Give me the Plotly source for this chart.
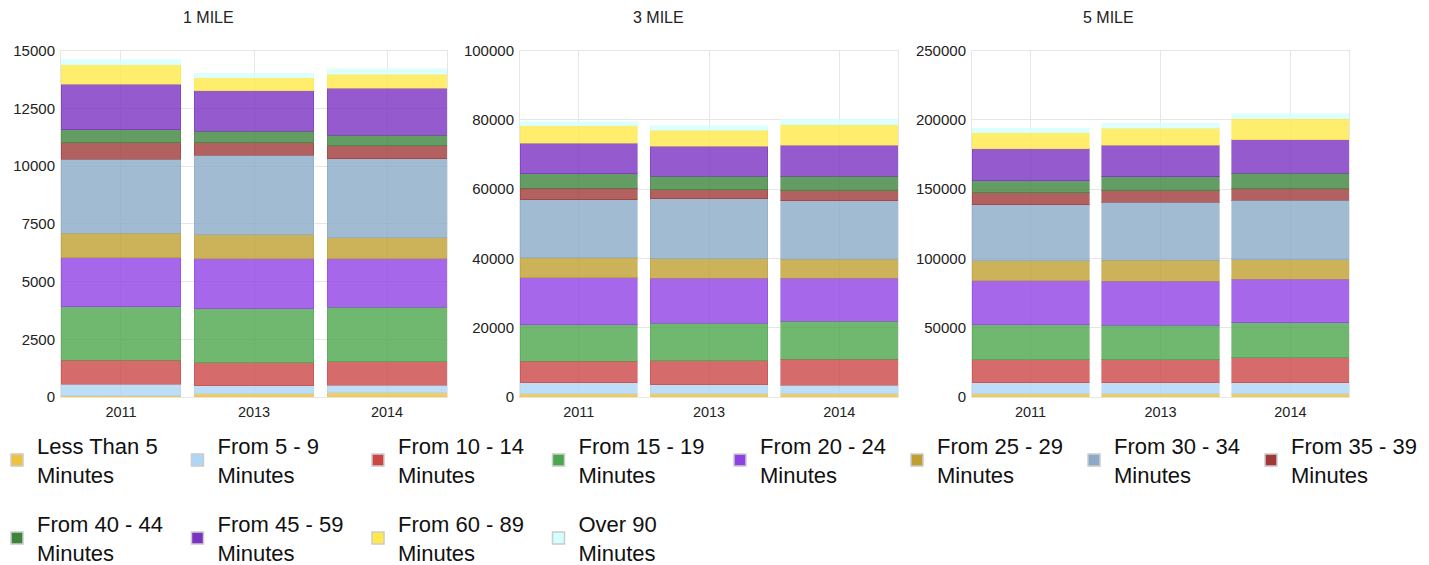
import plotly.graph_objects as go

years = ["2011", "2013", "2014"]
panel_titles = ["1 MILE", "3 MILE", "5 MILE"]
categories = [
    "Less Than 5<br>Minutes", "From 5 - 9<br>Minutes", "From 10 - 14<br>Minutes",
    "From 15 - 19<br>Minutes", "From 20 - 24<br>Minutes", "From 25 - 29<br>Minutes",
    "From 30 - 34<br>Minutes", "From 35 - 39<br>Minutes", "From 40 - 44<br>Minutes",
    "From 45 - 59<br>Minutes", "From 60 - 89<br>Minutes", "Over 90<br>Minutes",
]
colors = ["#eec23f", "#aed6f5", "#cc4646", "#4ca64c", "#9041e6", "#bf9f30",
          "#8aaac8", "#a03838", "#3d853d", "#7a32c2", "#ffe84a", "#d4ffff"]

# values per category (rows) for 2011, 2013, 2014
mile1 = [
    [60, 140, 190], [490, 350, 320], [1040, 1000, 1010], [2310, 2330, 2360],
    [2130, 2170, 2110], [1060, 1040, 910], [3210, 3440, 3420], [720, 550, 560],
    [560, 490, 460], [1970, 1750, 2040], [840, 560, 610], [220, 200, 220],
]
mile3 = [
    [970, 970, 970], [3190, 2610, 2420], [6180, 6860, 7440], [10530, 10920, 11110],
    [13620, 12950, 12370], [5700, 5600, 5410], [16810, 17300, 16910], [3290, 2710, 3000],
    [4150, 3870, 4150], [8890, 8600, 8990], [4930, 4640, 5890], [1260, 1260, 1550],
]
mile5 = [
    [2400, 2400, 2400], [7970, 7970, 7970], [16670, 16670, 18120], [25120, 24880, 25120],
    [31640, 31640, 31400], [14490, 15220, 14250], [40340, 41790, 42750], [8700, 8210, 8450],
    [8700, 10390, 11110], [23190, 22460, 24160], [11590, 12560, 15220], [3140, 3380, 3380],
]
y_ranges = [15000, 100000, 250000]
y_dticks = [2500, 20000, 50000]

# page has an 8px body margin; all pixel positions below are figure pixels
W, H = 1421, 557
PH = 410  # height of the paper area (bottom margin holds the legends)
FONT = "Arial, Liberation Sans, sans-serif"
panels = [mile1, mile3, mile5]
px_domains = [(53, 439), (512, 890), (964, 1341)]
title_x = [200, 650, 1100]
ydom = [(PH - 389) / PH, (PH - 42.7) / PH]
gap = 0.098

fig = go.Figure()


def hexa(c, a):
    c = c.lstrip("#")
    return "rgba(%d,%d,%d,%.2f)" % (int(c[0:2], 16), int(c[2:4], 16), int(c[4:6], 16), a)


for p, data in enumerate(panels):
    xa = "x" if p == 0 else "x%d" % (p + 1)
    ya = "y" if p == 0 else "y%d" % (p + 1)
    for i, cat in enumerate(categories):
        fig.add_trace(go.Bar(
            x=years, y=data[i], name=cat, xaxis=xa, yaxis=ya,
            marker=dict(color=hexa(colors[i], 0.8), line=dict(color=hexa(colors[i], 0.5), width=1)),
            showlegend=False, hoverinfo="x+y+name",
        ))

# legend entries (no data drawn): three legend blocks
legend_of = ["legend"] * 4 + ["legend3"] * 4 + ["legend2"] * 4
for i, cat in enumerate(categories):
    fig.add_trace(go.Bar(
        x=[None], y=[None], name=cat, marker=dict(color=colors[i], line=dict(color="#cccccc", width=1.5)),
        legend=legend_of[i], showlegend=True,
    ))

layout = dict(
    width=W, height=H, margin=dict(l=0, r=0, t=0, b=H - PH, autoexpand=False),
    paper_bgcolor="white", plot_bgcolor="white",
    barmode="stack", bargap=gap,
    font=dict(family=FONT, size=15, color="#222222"),
    showlegend=True,
)
for p in range(3):
    sfx = "" if p == 0 else str(p + 1)
    x0, x1 = px_domains[p]
    layout["xaxis" + sfx] = dict(
        domain=[x0 / W, x1 / W], anchor="y" + sfx, type="category",
        range=[-0.5 + gap / 2, 2.5 - gap / 2],
        showgrid=True, gridcolor="#e6e6e6", showline=True, linecolor="#e6e6e6", mirror=True,
        ticks="", tickfont=dict(size=14.5, color="#222222"), ticklabelstandoff=2,
        fixedrange=True,
    )
    layout["yaxis" + sfx] = dict(
        domain=ydom, anchor="x" + sfx, range=[0, y_ranges[p]], dtick=y_dticks[p],
        showgrid=True, gridcolor="#e6e6e6", showline=True, linecolor="#e6e6e6", mirror=True,
        zeroline=False, ticks="", tickfont=dict(size=15, color="#222222"), ticklabelstandoff=2,
        tickformat="d",
    )
legend_common = dict(
    orientation="h", xanchor="left", yanchor="top", traceorder="normal",
    entrywidthmode="pixels", font=dict(size=22, family=FONT, color="#111111"),
    bgcolor="rgba(0,0,0,0)",
)
row1_top, row2_top = 417, 495
layout["legend"] = dict(legend_common, x=-11 / W, y=(PH - row1_top) / PH, entrywidth=135.5)
layout["legend3"] = dict(legend_common, x=712 / W, y=(PH - row1_top) / PH, entrywidth=132)
layout["legend2"] = dict(legend_common, x=-11 / W, y=(PH - row2_top) / PH, entrywidth=135.5)
layout["annotations"] = [
    dict(text=t, x=title_x[i] / W, y=(PH - 9) / PH, xref="paper", yref="paper",
         showarrow=False, xanchor="center", yanchor="middle",
         font=dict(size=16, family=FONT, color="#222222"))
    for i, t in enumerate(panel_titles)
]
fig.update_layout(**layout)
fig.write_html("out.html")
